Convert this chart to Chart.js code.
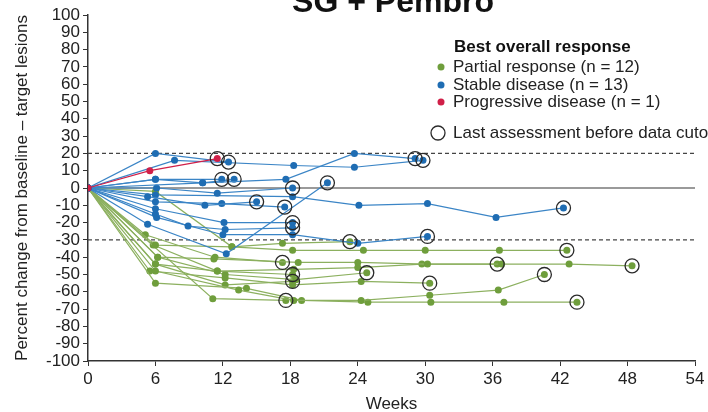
<!DOCTYPE html>
<html>
<head>
<meta charset="utf-8">
<script src="https://cdn.jsdelivr.net/npm/chart.js@4.4.1/dist/chart.umd.min.js"></script>
<style>
  html, body { margin: 0; padding: 0; background: #fff; }
  #wrap { width: 708px; height: 412px; }
</style>
</head>
<body>
<div id="wrap"><canvas id="spider"></canvas></div>
<script>
// each patient: [week, % change] pairs, last pair = last assessment before cutoff
const partialResponse = [
  [[0,0],[6,-33],[12.8,-34],[18.2,-36],[24.5,-36],[30,-36],[36.6,-36],[42.6,-36]],
  [[0,0],[6.2,-40],[11.2,-41],[18.7,-43],[24,-43],[30.2,-44],[36.8,-44],[42.8,-44],[48.4,-45]],
  [[0,0],[6,-44],[11.5,-48],[18.3,-47],[24,-46],[29.7,-44],[36.4,-44]],
  [[0,0],[6,-48],[13.4,-59],[18.3,-65],[24.3,-65],[30.4,-62],[36.5,-59],[40.6,-50]],
  [[0,0],[6,-55],[14.1,-58],[19,-65],[24.9,-66],[30.5,-66],[37,-66],[43.5,-66]],
  [[0,0],[11.1,-64],[17.6,-65]],
  [[0,0],[5.5,-48],[12.2,-52],[18.2,-56],[24.3,-54],[30.4,-55]],
  [[0,0],[6.2,-40],[12.2,-50],[18.5,-53],[24.8,-49]],
  [[0,0],[5.8,-33],[11.5,-48],[18.2,-50]],
  [[0,0],[6,-44],[12.2,-56],[18.2,-54]],
  [[0,0],[5.1,-27],[11.3,-40],[17.3,-43]],
  [[0,0],[6,-2],[12.8,-34],[17.3,-32],[23.3,-31]]
];
const stableDisease = [
  [[0,0],[6,20],[12.5,15]],
  [[0,0],[7.7,16],[18.3,13],[23.7,12],[29.8,16]],
  [[0,0],[6,5],[10.2,3],[17.6,5],[23.7,20],[29.1,17]],
  [[0,0],[6,5],[11.9,5]],
  [[0,0],[10.2,3],[13,5]],
  [[0,0],[6.1,0],[11.5,-3],[18.2,0]],
  [[0,0],[5.3,-21],[12.3,-38],[21.3,3]],
  [[0,0],[5.3,-5],[10.4,-10],[15,-8]],
  [[0,0],[6,-8],[11.9,-9],[17.5,-11]],
  [[0,0],[6,-4],[18.2,-5],[24.1,-10],[30.2,-9],[36.3,-17],[42.3,-11.5]],
  [[0,0],[6,-12],[12.1,-20],[18.2,-20]],
  [[0,0],[6,-15],[8.9,-22],[12.2,-24],[18.2,-23]],
  [[0,0],[6.1,-17],[12,-27],[18.2,-27],[24,-32],[30.2,-28]]
];
const progressiveDisease = [
  [[0,0],[5.5,10],[11.5,17]]
];
const thresholdLines = [20, -30];
const legendLabels = ['Partial response (n = 12)', 'Stable disease (n = 13)', 'Progressive disease (n = 1)'];

const GREEN = '#6f9e3c', GREEN_LINE = '#8cb05f';
const BLUE = '#1f6db3', BLUE_LINE = '#3b85c6';
const RED = '#d01f48';
const FONT = 'Arial, "Liberation Sans", sans-serif';

function toPts(p) { return p.map(d => ({ x: d[0], y: d[1] })); }

function patientSets(list, dot, line, order) {
  return list.map(p => ({
    data: toPts(p),
    showLine: true,
    borderColor: line,
    borderWidth: 1.2,
    pointRadius: 3.5,
    pointBackgroundColor: dot,
    pointBorderWidth: 0,
    order: order
  }));
}

const lastPts = [...partialResponse, ...stableDisease, ...progressiveDisease]
  .map(p => ({ x: p[p.length - 1][0], y: p[p.length - 1][1] }));

const datasets = [
  ...patientSets(partialResponse, GREEN, GREEN_LINE, 4),
  ...patientSets(stableDisease, BLUE, BLUE_LINE, 3),
  ...patientSets(progressiveDisease, RED, RED, 2),
  {
    data: lastPts,
    showLine: false,
    pointRadius: 7,
    pointBackgroundColor: 'rgba(0,0,0,0)',
    pointBorderColor: '#2a2a2a',
    pointBorderWidth: 1.3,
    order: 1
  }
];

const refLinesPlugin = {
  id: 'refLines',
  beforeDatasetsDraw(chart) {
    const { ctx, chartArea: a, scales: { y } } = chart;
    ctx.save();
    ctx.strokeStyle = '#9a9a9a';
    ctx.lineWidth = 2;
    ctx.beginPath();
    ctx.moveTo(a.left, y.getPixelForValue(0));
    ctx.lineTo(a.right, y.getPixelForValue(0));
    ctx.stroke();
    ctx.strokeStyle = '#444';
    ctx.lineWidth = 1.2;
    ctx.setLineDash([4, 3]);
    thresholdLines.forEach(v => {
      const py = y.getPixelForValue(v);
      ctx.beginPath();
      ctx.moveTo(a.left, py);
      ctx.lineTo(a.right, py);
      ctx.stroke();
    });
    ctx.restore();
  }
};

const annotPlugin = {
  id: 'annot',
  afterDraw(chart) {
    const ctx = chart.ctx;
    ctx.save();
    ctx.fillStyle = '#111';
    ctx.font = 'bold 32px ' + FONT;
    ctx.textAlign = 'center';
    ctx.textBaseline = 'alphabetic';
    ctx.fillText('SG + Pembro', 393, 12);

    ctx.textAlign = 'left';
    ctx.textBaseline = 'middle';
    ctx.font = 'bold 17px ' + FONT;
    ctx.fillText('Best overall response', 454, 47);
    ctx.font = '17px ' + FONT;
    const cols = [GREEN, BLUE, RED];
    const ys = [67, 85, 102];
    legendLabels.forEach((t, i) => {
      ctx.fillStyle = cols[i];
      ctx.beginPath();
      ctx.arc(441, ys[i], 3.5, 0, Math.PI * 2);
      ctx.fill();
      ctx.fillStyle = '#222';
      ctx.fillText(t, 453, ys[i]);
    });
    ctx.strokeStyle = '#2a2a2a';
    ctx.lineWidth = 1.3;
    ctx.beginPath();
    ctx.arc(438, 133, 7, 0, Math.PI * 2);
    ctx.stroke();
    ctx.fillStyle = '#222';
    ctx.fillText('Last assessment before data cutoff', 453, 133);
    ctx.restore();
  }
};

const ctx = document.getElementById('spider').getContext('2d');
new Chart(ctx, {
  type: 'scatter',
  data: { datasets: datasets },
  options: {
    responsive: true,
    maintainAspectRatio: false,
    animation: false,
    layout: { padding: { top: 15, right: 13, left: 0, bottom: 0 } },
    plugins: { legend: { display: false }, tooltip: { enabled: false } },
    scales: {
      x: {
        type: 'linear',
        min: 0, max: 54,
        afterFit(scale) { scale.height = 51; },
        ticks: { stepSize: 6, color: '#222', padding: 3, font: { family: FONT, size: 17 } },
        grid: { drawOnChartArea: false, drawTicks: true, tickLength: 5, color: '#333' },
        border: { display: true, color: '#333', width: 1.5 },
        title: { display: true, text: 'Weeks', color: '#222', padding: { top: 2, bottom: -3 }, font: { family: FONT, size: 17 } }
      },
      y: {
        type: 'linear',
        min: -100, max: 100,
        afterFit(scale) { scale.width = 88; },
        ticks: { stepSize: 10, autoSkip: false, color: '#222', padding: 3, font: { family: FONT, size: 17 } },
        grid: { drawOnChartArea: false, drawTicks: true, tickLength: 5, color: '#333' },
        border: { display: true, color: '#333', width: 1.5 },
        title: { display: true, text: 'Percent change from baseline – target lesions', color: '#222', padding: { top: 12, bottom: 0 }, font: { family: FONT, size: 17 } }
      }
    }
  },
  plugins: [refLinesPlugin, annotPlugin]
});
</script>
</body>
</html>
